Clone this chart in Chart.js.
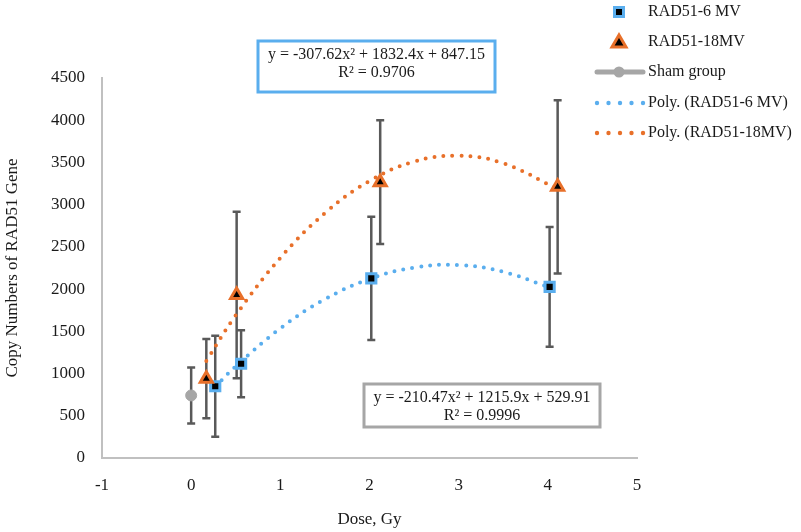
<!DOCTYPE html>
<html>
<head>
<meta charset="utf-8">
<script src="https://cdn.jsdelivr.net/npm/chart.js@4"></script>
<style>
  body { margin: 0; background: #fff; }
  canvas { display: block; }
</style>
</head>
<body>
<canvas id="ch" width="801" height="532"></canvas>
<script>
// values
var dose6 = [0.27, 0.56, 2.02, 4.02];
var rad6 = [850, 1116, 2126, 2027];
var err6 = [597, 398, 730, 710];

var dose18 = [0.17, 0.51, 2.12, 4.11];
var rad18 = [939, 1929, 3266, 3211];
var err18 = [469, 986, 733, 1025];

var doseSham = [0];
var sham = [741];
var errSham = [331];

var trendX6 = [0.27, 0.5, 1, 1.5, 2, 2.5, 3, 3.5, 4.02];
var trend6 = [845, 1085, 1535, 1880, 2120, 2255, 2285, 2205, 2020];
var trendX18 = [0.17, 0.5, 1, 1.5, 2, 2.5, 3, 3.5, 4.11];
var trend18 = [1150, 1690, 2370, 2900, 3280, 3510, 3580, 3490, 3185];

var xTicks = [-1, 0, 1, 2, 3, 4, 5];
var yTicks = [0, 500, 1000, 1500, 2000, 2500, 3000, 3500, 4000, 4500];

var eq6 = ["y = -210.47x\u00b2 + 1215.9x + 529.91", "R\u00b2 = 0.9996"];
var eq18 = ["y = -307.62x\u00b2 + 1832.4x + 847.15", "R\u00b2 = 0.9706"];

var COR = {
  blue: "#5aaeee",
  orange: "#e8702a",
  gray: "#a6a6a6",
  bar: "#595959",
  axis: "#c0c0c0",
  text: "#1a1a1a",
};
var FONT = "Liberation Serif, serif";

function pts(xs, ys) {
  return xs.map(function (x, i) { return { x: x, y: ys[i] }; });
}

var errorBars = {
  id: "errorBars",
  beforeDatasetsDraw: function (chart) {
    var ctx = chart.ctx, xs = chart.scales.x, ys = chart.scales.y;
    var sets = [[dose6, rad6, err6], [dose18, rad18, err18], [doseSham, sham, errSham]];
    ctx.save();
    ctx.strokeStyle = COR.bar;
    ctx.lineWidth = 2.5;
    sets.forEach(function (s) {
      s[0].forEach(function (d, i) {
        var px = xs.getPixelForValue(d);
        var top = ys.getPixelForValue(s[1][i] + s[2][i]);
        var bot = ys.getPixelForValue(s[1][i] - s[2][i]);
        ctx.beginPath();
        ctx.moveTo(px, top); ctx.lineTo(px, bot);
        ctx.moveTo(px - 4, top); ctx.lineTo(px + 4, top);
        ctx.moveTo(px - 4, bot); ctx.lineTo(px + 4, bot);
        ctx.stroke();
      });
    });
    ctx.restore();
  },
};

function caixa(ctx, lines, x, y, w, h, cor) {
  ctx.save();
  ctx.fillStyle = "#fff";
  ctx.fillRect(x, y, w, h);
  ctx.strokeStyle = cor;
  ctx.lineWidth = 3;
  ctx.strokeRect(x, y, w, h);
  ctx.fillStyle = COR.text;
  ctx.font = "16px " + FONT;
  ctx.textAlign = "center";
  ctx.textBaseline = "middle";
  ctx.fillText(lines[0], x + w / 2, y + 14);
  ctx.fillText(lines[1], x + w / 2, y + 32);
  ctx.restore();
}

var overlay = {
  id: "overlay",
  afterDraw: function (chart) {
    var ctx = chart.ctx;
    caixa(ctx, eq18, 258, 41, 237, 51, COR.blue);
    caixa(ctx, eq6, 364, 384, 236, 43, COR.gray);

    // legend
    ctx.save();
    ctx.font = "16px " + FONT;
    ctx.textBaseline = "middle";
    ctx.fillStyle = COR.text;
    var tx = 648, mx = 619;
    var rows = [12, 42, 72, 103, 133];
    var names = ["RAD51-6 MV", "RAD51-18MV", "Sham group", "Poly. (RAD51-6 MV)", "Poly. (RAD51-18MV)"];
    names.forEach(function (n, i) { ctx.fillText(n, tx, rows[i]); });

    ctx.fillStyle = "#000";
    ctx.strokeStyle = COR.blue;
    ctx.lineWidth = 3;
    ctx.fillRect(mx - 4.5, rows[0] - 4.5, 9, 9);
    ctx.strokeRect(mx - 4.5, rows[0] - 4.5, 9, 9);

    ctx.beginPath();
    ctx.moveTo(mx, rows[1] - 7); ctx.lineTo(mx + 7, rows[1] + 5); ctx.lineTo(mx - 7, rows[1] + 5); ctx.closePath();
    ctx.fillStyle = "#000"; ctx.strokeStyle = COR.orange; ctx.lineWidth = 3;
    ctx.fill(); ctx.stroke();

    ctx.strokeStyle = COR.gray; ctx.lineWidth = 5; ctx.lineCap = "round";
    ctx.beginPath(); ctx.moveTo(597, rows[2]); ctx.lineTo(643, rows[2]); ctx.stroke();
    ctx.fillStyle = COR.gray;
    ctx.beginPath(); ctx.arc(mx, rows[2], 5.5, 0, Math.PI * 2); ctx.fill();

    [[rows[3], COR.blue], [rows[4], COR.orange]].forEach(function (r) {
      ctx.fillStyle = r[1];
      for (var k = 0; k < 5; k++) {
        ctx.beginPath(); ctx.arc(597 + k * 11.5, r[0], 2.2, 0, Math.PI * 2); ctx.fill();
      }
    });
    ctx.restore();
  },
};

var pontilhado = { borderDash: [0, 9], borderCapStyle: "round", borderWidth: 4, pointRadius: 0, showLine: true, fill: false, tension: 0.4 };

function semVirgula(v) { return String(v); }

new Chart(document.getElementById("ch"), {
  type: "scatter",
  data: {
    datasets: [
      Object.assign({ data: pts(trendX6, trend6), borderColor: COR.blue, order: 5 }, pontilhado),
      Object.assign({ data: pts(trendX18, trend18), borderColor: COR.orange, order: 4 }, pontilhado),
      { data: pts(doseSham, sham), pointStyle: "circle", pointRadius: 5.5, backgroundColor: COR.gray, borderColor: COR.gray, order: 3 },
      { data: pts(dose6, rad6), pointStyle: "rect", pointRadius: 6.5, borderWidth: 3, backgroundColor: "#000", borderColor: COR.blue, order: 2 },
      { data: pts(dose18, rad18), pointStyle: "triangle", pointRadius: 7, borderWidth: 3, backgroundColor: "#000", borderColor: COR.orange, order: 1 },
    ],
  },
  options: {
    responsive: false,
    animation: false,
    events: [],
    layout: { padding: { left: 0, right: 164, top: 78, bottom: 0 } },
    plugins: { legend: { display: false }, tooltip: { enabled: false } },
    scales: {
      x: {
        type: "linear", min: -1, max: 5,
        afterBuildTicks: function (s) { s.ticks = xTicks.map(function (v) { return { value: v }; }); },
        afterFit: function (s) { s.height = 74; },
        grid: { display: false, drawTicks: false },
        border: { display: true, color: COR.axis, width: 2 },
        ticks: { padding: 17, color: COR.text, font: { family: FONT, size: 17 }, callback: semVirgula },
        title: { display: true, text: "Dose, Gy", color: COR.text, font: { family: FONT, size: 17 }, padding: { top: 0, bottom: 2 } },
      },
      y: {
        min: 0, max: 4500,
        afterBuildTicks: function (s) { s.ticks = yTicks.map(function (v) { return { value: v }; }); },
        afterFit: function (s) { s.width = 102; },
        grid: { display: false, drawTicks: false },
        border: { display: true, color: COR.axis, width: 2 },
        ticks: { padding: 17, color: COR.text, font: { family: FONT, size: 17 }, callback: semVirgula },
        title: { display: true, text: "Copy Numbers of RAD51 Gene", color: COR.text, font: { family: FONT, size: 17 }, padding: { top: 2, bottom: 0 } },
      },
    },
  },
  plugins: [errorBars, overlay],
});
</script>
</body>
</html>
